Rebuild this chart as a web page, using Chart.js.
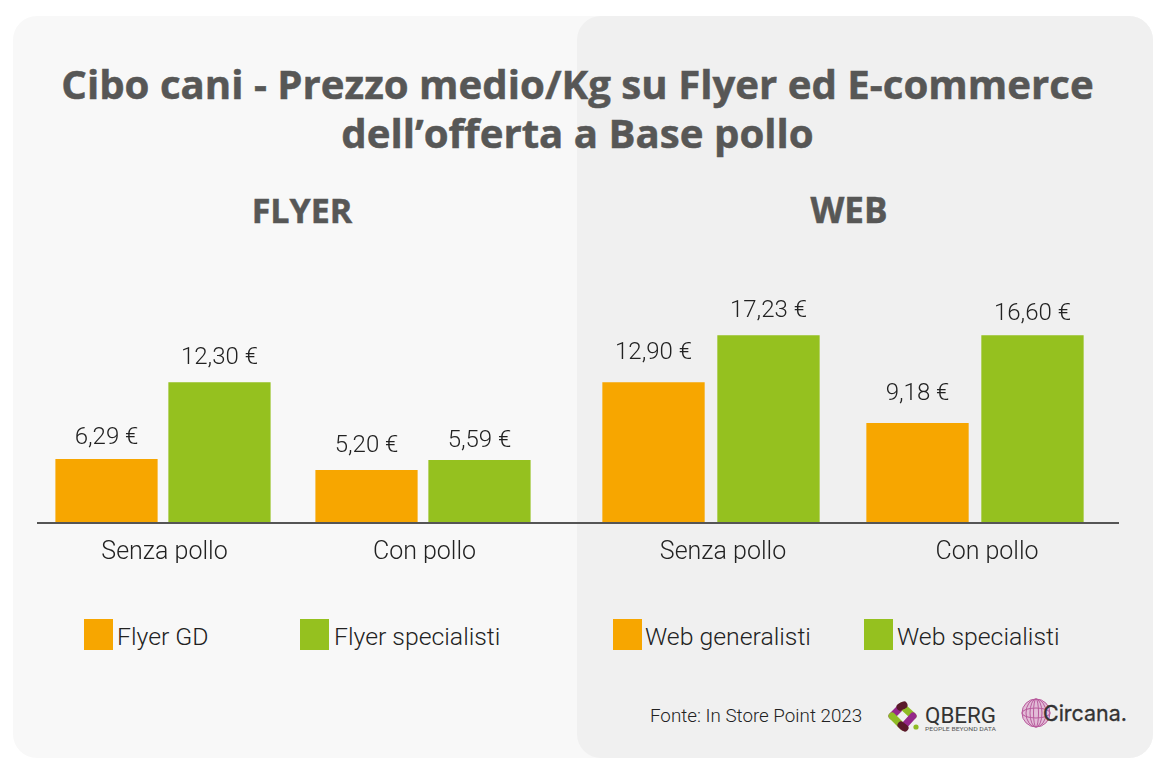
<!DOCTYPE html>
<html lang="it"><head><meta charset="utf-8">
<script src="https://cdn.jsdelivr.net/npm/chart.js@4"></script>
<style>
html,body{margin:0;padding:0;background:#fff;}
#stage{position:relative;width:1170px;height:777px;overflow:hidden;font-family:Roboto,sans-serif;}
.abs{position:absolute;white-space:nowrap;}
#p1{left:13px;top:16px;width:1140px;height:742px;background:#f8f8f8;border-radius:24px;}
#p2{left:577px;top:16px;width:576px;height:742px;background:#f0f0f0;border-radius:24px;}
.t{font-family:"Open Sans",sans-serif;font-weight:700;color:#575756;text-align:center;-webkit-text-stroke:0.5px #575756;}
canvas{position:absolute;}
.box{position:absolute;width:29px;height:31px;top:619px;}
.lg{position:absolute;top:622px;font:300 24.8px Roboto,sans-serif;color:#222;white-space:nowrap;line-height:30px;}
</style></head><body>
<div id="stage">
<div id="p1" class="abs"></div><div id="p2" class="abs"></div>
<div class="abs t" style="left:0;width:1155px;top:59px;font-size:40.2px;line-height:49px;">Cibo cani - Prezzo medio/Kg su Flyer ed E-commerce<br>dell’offerta a Base pollo</div>
<div class="abs t" style="left:202px;width:200px;top:187px;font-size:34px;line-height:46px;">FLYER</div>
<div class="abs t" style="left:749px;width:200px;top:187px;font-size:35px;line-height:46px;">WEB</div>
<canvas id="flyer" width="558" height="360" style="left:13px;top:240px;width:558px;height:360px"></canvas>
<canvas id="web" width="582" height="360" style="left:571px;top:240px;width:582px;height:360px"></canvas>
<div id="legend"></div>
<div class="abs" style="left:650px;top:704px;font:300 18.8px Roboto,sans-serif;color:#222;line-height:24px;">Fonte: In Store Point 2023</div>
<svg class="abs" style="left:885px;top:698px" width="114" height="36" viewBox="0 0 114 36">
<g fill="none" stroke-width="7" stroke-linecap="round">
<line x1="7" y1="18" x2="17" y2="8" stroke="#95288a"/>
<line x1="17" y1="8" x2="28" y2="18" stroke="#8fbb25"/>
<line x1="7" y1="18" x2="18" y2="29" stroke="#8fbb25"/>
<line x1="18" y1="29" x2="28" y2="18" stroke="#95288a"/>
<line x1="15" y1="9" x2="19" y2="7" stroke="#5a1a2a"/>
<line x1="16" y1="27" x2="20" y2="30" stroke="#5a1a2a"/>
</g>
<circle cx="31" cy="29" r="2.6" fill="#8fbb25"/>
<text x="40" y="25" font-family="Roboto,sans-serif" font-size="22" font-weight="400" fill="#333" textLength="71" lengthAdjust="spacingAndGlyphs">QBERG</text>
<text x="40" y="33" font-family="Roboto,sans-serif" font-size="6" fill="#555" textLength="71" lengthAdjust="spacingAndGlyphs">PEOPLE BEYOND DATA</text>
</svg>
<svg class="abs" style="left:1020px;top:696px" width="112" height="36" viewBox="0 0 112 36">
<g fill="none" stroke="#b85a9c" stroke-width="1"><circle cx="16" cy="17" r="14" fill="#e2bcd7"/><ellipse cx="16" cy="17" rx="10" ry="14"/><ellipse cx="16" cy="17" rx="6" ry="14"/><ellipse cx="16" cy="17" rx="2.5" ry="14"/><ellipse cx="16" cy="17" rx="14" ry="5"/></g>
<text x="23" y="25" font-family="Inter,Roboto,sans-serif" font-size="22" font-weight="400" fill="#333" stroke="#333" stroke-width="0.3" textLength="84" lengthAdjust="spacingAndGlyphs">Circana.</text>
</svg>
</div>
<script>
// Category and series names
const categories = ["Senza pollo", "Con pollo"];
const flyerGD = [5.86, 4.85];            // drawn bar lengths
const flyerSpecialisti = [12.9, 5.76];   // (the published bars are not exactly to scale with their labels)
const webGeneralisti = [12.9, 9.15];
const webSpecialisti = [17.2, 17.2];
// Printed value labels
const flyerGDLabels = ["6,29 €", "5,20 €"];
const flyerSpecLabels = ["12,30 €", "5,59 €"];
const webGenLabels = ["12,90 €", "9,18 €"];
const webSpecLabels = ["17,23 €", "16,60 €"];

const ORANGE = "#f7a600", GREEN = "#95c11f";
const labelFont = '300 24px Roboto, sans-serif';

const valueLabels = {
  id: "valueLabels",
  afterDatasetsDraw(chart, args, opts) {
    const c = chart.ctx; c.save();
    c.font = labelFont; c.fillStyle = "#222"; c.textAlign = "center"; c.textBaseline = "middle";
    chart.data.datasets.forEach((ds, i) => {
      chart.getDatasetMeta(i).data.forEach((bar, j) => {
        c.fillText(ds.valueLabels[j], bar.x, bar.y - ds.lifts[j]);
      });
    });
    c.restore();
  }
};
const baseLine = {
  id: "baseLine",
  afterDatasetsDraw(chart, args, opts) {
    const c = chart.ctx, y = chart.scales.y.getPixelForValue(0);
    c.save(); c.strokeStyle = "#555"; c.lineWidth = 2;
    c.beginPath(); c.moveTo(opts.from, y); c.lineTo(opts.to, y); c.stroke(); c.restore();
  }
};

function makeChart(id, a, b, names, padL, padR, catPct, barPct, labelOffset, from, to) {
  return new Chart(document.getElementById(id), {
    type: "bar",
    data: { labels: categories, datasets: [
      { label: names[0], data: a.values, valueLabels: a.labels, lifts: a.lifts, backgroundColor: ORANGE, categoryPercentage: catPct, barPercentage: barPct },
      { label: names[1], data: b.values, valueLabels: b.labels, lifts: b.lifts, backgroundColor: GREEN, categoryPercentage: catPct, barPercentage: barPct }
    ]},
    options: {
      responsive: false, animation: false, devicePixelRatio: 1,
      layout: { padding: { left: padL, right: padR, top: 10, bottom: 37 } },
      plugins: { legend: { display: false }, tooltip: { enabled: false }, baseLine: { from, to } },
      scales: {
        x: { grid: { display: false, drawTicks: false }, border: { display: false },
             afterFit: s => { s.height = 40; },
             ticks: { color: "#222", padding: 15, labelOffset, font: { family: "Roboto", size: 25, weight: "300" }, maxRotation: 0 } },
        y: { display: false, min: 0, max: 25 }
      }
    },
    plugins: [valueLabels, baseLine]
  });
}
const fc = makeChart("flyer",
  { values: flyerGD, labels: flyerGDLabels, lifts: [21, 24] },
  { values: flyerSpecialisti, labels: flyerSpecLabels, lifts: [24, 19] },
  ["Flyer GD", "Flyer specialisti"], 20, 18, 0.869, 0.905, 1.5, 24, 558);
const wc = makeChart("web",
  { values: webGeneralisti, labels: webGenLabels, lifts: [29, 29] },
  { values: webSpecialisti, labels: webSpecLabels, lifts: [24, 21] },
  ["Web generalisti", "Web specialisti"], 8, 46, 0.871, 0.89, 12, 0, 548);

// Legend built from the datasets
const legendEl = document.getElementById("legend");
[[fc, [84, 300], [117, 334]], [wc, [613, 864], [645, 897]]].forEach(([ch, boxes, texts]) => {
  ch.data.datasets.forEach((ds, i) => {
    const b = document.createElement("div"); b.className = "box";
    b.style.left = boxes[i] + "px"; b.style.background = ds.backgroundColor;
    const t = document.createElement("div"); t.className = "lg";
    t.style.left = texts[i] + "px"; t.textContent = ds.label;
    legendEl.append(b, t);
  });
});
</script>
</body></html>
